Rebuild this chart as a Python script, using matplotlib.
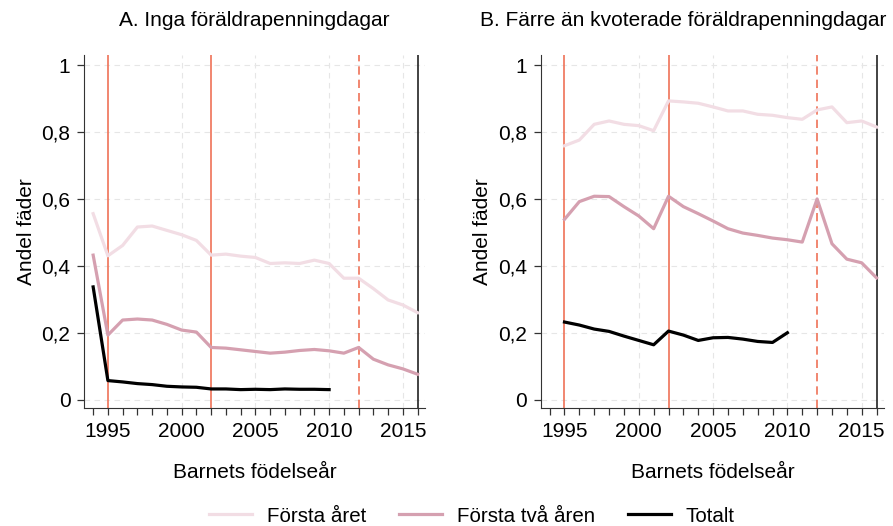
import matplotlib
matplotlib.use("Agg")
import matplotlib.pyplot as plt
from matplotlib.ticker import FixedLocator, FuncFormatter

plt.rcParams['font.family'] = ['Liberation Sans', 'DejaVu Sans']

years_a = list(range(1994, 2017))
first_year_a = [0.556, 0.430, 0.461, 0.516, 0.519, 0.506, 0.493, 0.476, 0.432, 0.435, 0.429, 0.425,
                0.407, 0.409, 0.407, 0.417, 0.407, 0.363, 0.363, 0.332, 0.298, 0.283, 0.260]
first_two_a = [0.432, 0.193, 0.238, 0.241, 0.238, 0.225, 0.208, 0.202, 0.156, 0.154, 0.149, 0.144,
               0.139, 0.142, 0.147, 0.150, 0.146, 0.139, 0.156, 0.121, 0.104, 0.092, 0.076]
years_tot_a = list(range(1994, 2011))
total_a = [0.337, 0.057, 0.053, 0.048, 0.045, 0.040, 0.038, 0.037, 0.032, 0.032, 0.030, 0.031,
           0.030, 0.032, 0.031, 0.031, 0.030]

years_b = list(range(1995, 2017))
first_year_b = [0.759, 0.776, 0.823, 0.833, 0.823, 0.819, 0.804, 0.893, 0.890, 0.886, 0.875,
                0.863, 0.863, 0.853, 0.850, 0.843, 0.838, 0.866, 0.875, 0.828, 0.833, 0.815]
first_two_b = [0.539, 0.592, 0.608, 0.607, 0.577, 0.549, 0.511, 0.608, 0.577, 0.556, 0.534,
               0.511, 0.498, 0.491, 0.483, 0.478, 0.471, 0.600, 0.466, 0.420, 0.409, 0.364]
years_tot_b = list(range(1995, 2011))
total_b = [0.232, 0.223, 0.211, 0.204, 0.190, 0.177, 0.164, 0.205, 0.193, 0.177, 0.185, 0.186,
           0.181, 0.174, 0.171, 0.200]

titles = ["A. Inga föräldrapenningdagar", "B. Färre än kvoterade föräldrapenningdagar"]
series_labels = ["Första året", "Första två åren", "Totalt"]
reform_solid = [1995, 2002]
reform_dashed = [2012]
xticks_major = [1995, 2000, 2005, 2010, 2015]
yticks = [0, 0.2, 0.4, 0.6, 0.8, 1.0]

c_first = '#f2dde4'
c_two = '#d5a0b0'
c_tot = '#000000'
c_ref = '#ef7257'

FS = 15
FS_LEG = 14.8

fig = plt.figure(figsize=(8.93, 5.26), dpi=100)
axA = fig.add_axes([0.0944, 0.2243, 0.3815, 0.671])
axB = fig.add_axes([0.6055, 0.2243, 0.3844, 0.671])

data = [
    (axA, years_a, first_year_a, first_two_a, years_tot_a, total_a),
    (axB, years_b, first_year_b, first_two_b, years_tot_b, total_b),
]

fmt = FuncFormatter(lambda v, p: ('%g' % round(v, 1)).replace('.', ','))

for i, (ax, yrs, f1, f2, yt, tot) in enumerate(data):
    ax.set_xlim(1993.4, 2016.5)
    ax.set_ylim(-0.025, 1.03)
    for y in yticks:
        ax.axhline(y, color='#e6e6e6', lw=0.8, ls=(0, (5, 4)), zorder=0)
    for x in [2000, 2005, 2010, 2015]:
        ax.axvline(x, color='#e6e6e6', lw=0.8, ls=(0, (5, 4)), zorder=0)
    for x in reform_solid:
        ax.axvline(x, color=c_ref, lw=1.2, zorder=1)
    for x in reform_dashed:
        ax.axvline(x, color=c_ref, lw=1.2, ls=(0, (5, 3)), zorder=1)
    ax.axvline(2016, color='#222222', lw=1.2, zorder=1)
    l1, = ax.plot(yrs, f1, color=c_first, lw=2.3, label=series_labels[0], zorder=3)
    l2, = ax.plot(yrs, f2, color=c_two, lw=2.3, label=series_labels[1], zorder=3)
    l3, = ax.plot(yt, tot, color=c_tot, lw=2.3, label=series_labels[2], zorder=4)
    ax.spines['top'].set_visible(False)
    ax.spines['right'].set_visible(False)
    ax.spines['left'].set_color('#333333')
    ax.spines['bottom'].set_color('#333333')
    ax.xaxis.set_major_locator(FixedLocator(xticks_major))
    ax.xaxis.set_minor_locator(FixedLocator(list(range(1994, 2017))))
    ax.tick_params(axis='x', which='both', length=5, width=0.9, color='#333333')
    ax.tick_params(axis='x', which='major', labelsize=FS, pad=5)
    ax.yaxis.set_major_locator(FixedLocator(yticks))
    ax.yaxis.set_major_formatter(fmt)
    ax.tick_params(axis='y', length=5, width=0.9, labelsize=FS, color='#333333', pad=5)
    ax.set_ylabel("Andel fäder", fontsize=FS, labelpad=4)
    ax.set_xlabel("Barnets födelseår", fontsize=FS, labelpad=16)
    handles = [l1, l2, l3]

fig.text(254 / 893, 1 - 21 / 526, titles[0], ha='center', va='center', fontsize=FS)
fig.text(886 / 893, 1 - 21 / 526, titles[1], ha='right', va='center', fontsize=FS)

fig.legend(handles, series_labels, loc='center', bbox_to_anchor=(472 / 893, 1 - 516 / 526),
           ncol=3, frameon=False, fontsize=FS_LEG, handlelength=2.07, handletextpad=0.72,
           columnspacing=1.63, borderpad=0.0)

fig.savefig("out.png", dpi=100)
